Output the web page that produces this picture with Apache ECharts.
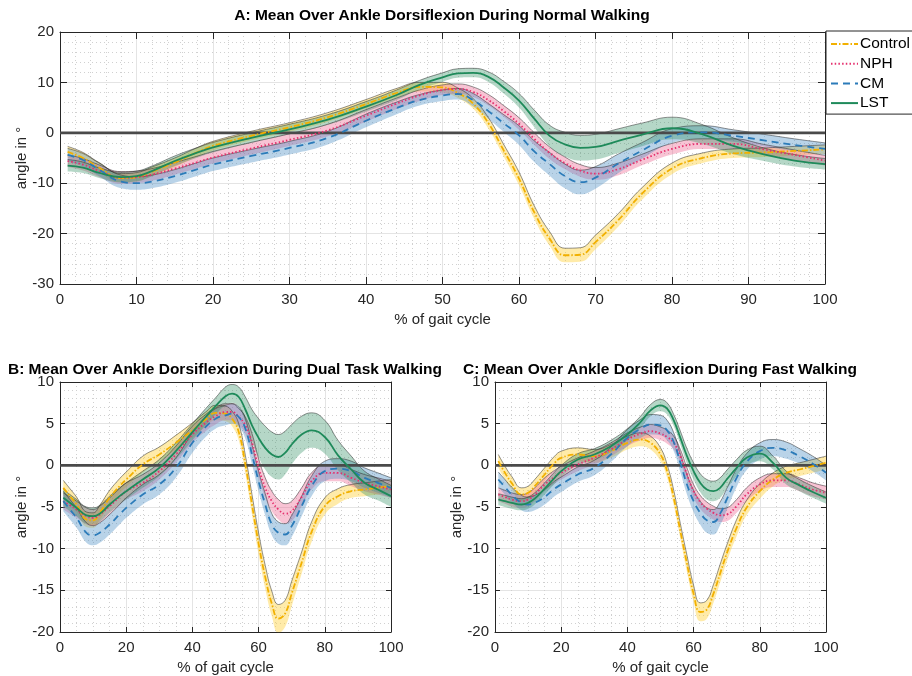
<!DOCTYPE html>
<html><head><meta charset="utf-8">
<script src="https://cdn.jsdelivr.net/npm/echarts@6/dist/echarts.min.js"></script>
<style>html,body{margin:0;padding:0;background:#fff}#c{width:912px;height:676px}</style>
</head><body><div id="c"></div><script>
const X = [1,3,5,8,10,12,15,18,20,25,30,35,40,44,47,50,52,54,56,58,60,62,64,66,68,70,73,76,80,84,88,92,96,100];
const groupNames = ['Control','NPH','CM','LST'];
const panelTitles = ['A: Mean Over Ankle Dorsiflexion During Normal Walking','B: Mean Over Ankle Dorsiflexion During Dual Task Walking','C: Mean Over Ankle Dorsiflexion During Fast Walking'];
const xAxisName = '% of gait cycle';
const yAxisName = 'angle in °';

const A_Control_mean = [-3.8,-5.0,-6.8,-9.0,-8.8,-7.7,-5.9,-3.8,-2.6,-0.6,1.1,3.1,5.7,7.9,9.1,9.0,7.9,5.8,1.9,-3.5,-9.1,-15.8,-21.0,-24.3,-24.2,-21.7,-17.3,-12.2,-7.1,-5.0,-4.1,-3.9,-3.6,-3.3];
const A_Control_sd   = [1.1,1.1,1.0,0.9,0.9,0.9,0.9,0.9,0.9,0.9,0.9,0.9,0.9,0.9,0.9,1.0,1.0,1.0,1.1,1.2,1.3,1.3,1.4,1.4,1.4,1.4,1.3,1.2,1.1,1.0,0.9,0.9,0.9,0.9];
const A_NPH_mean = [-5.6,-6.3,-7.5,-8.9,-8.8,-8.3,-7.1,-5.8,-4.9,-3.1,-1.4,0.5,3.4,5.8,7.4,8.5,8.7,8.1,6.5,4.3,1.8,-1.2,-4.0,-6.0,-7.5,-8.1,-7.2,-5.4,-3.2,-2.2,-2.2,-3.3,-4.4,-5.5];
const A_NPH_sd   = [1.2,1.2,1.2,1.2,1.2,1.2,1.2,1.2,1.2,1.2,1.2,1.2,1.2,1.1,1.1,1.0,1.0,1.0,1.1,1.1,1.2,1.2,1.2,1.2,1.2,1.2,1.2,1.1,1.1,1.0,1.0,1.0,1.0,1.0];
const A_CM_mean = [-4.4,-5.4,-7.2,-9.7,-10.0,-9.7,-8.6,-7.2,-6.3,-4.6,-3.0,-1.0,2.4,4.9,6.5,7.4,7.7,6.5,4.3,1.9,-0.5,-3.7,-6.2,-8.6,-9.8,-8.9,-6.1,-3.6,-0.6,0.1,-0.6,-1.5,-2.4,-3.2];
const A_CM_sd   = [1.3,1.3,1.3,1.3,1.3,1.3,1.3,1.3,1.3,1.3,1.3,1.3,1.3,1.2,1.1,1.1,1.1,1.3,1.5,1.7,1.9,2.1,2.3,2.4,2.4,2.2,1.9,1.6,1.4,1.3,1.2,1.2,1.2,1.2];
const A_LST_mean = [-6.5,-6.9,-7.9,-8.8,-8.6,-7.6,-5.6,-3.9,-2.9,-1.0,0.7,2.6,5.2,7.5,9.5,11.0,11.8,11.9,11.1,9.0,6.4,2.8,-0.6,-2.3,-3.0,-2.8,-1.6,-0.4,0.9,-0.3,-2.6,-4.3,-5.5,-6.2];
const A_LST_sd   = [1.2,1.1,1.0,1.0,1.0,1.0,1.0,1.0,1.0,1.0,1.0,1.0,1.0,1.0,0.9,0.9,0.9,0.9,1.0,1.2,1.4,1.7,2.1,2.4,2.5,2.5,2.4,2.3,2.2,1.9,1.6,1.3,1.2,1.1];

const B_Control_mean = [-2.7,-3.7,-4.7,-6.5,-6.6,-5.7,-3.9,-2.5,-1.7,0.1,1.3,2.7,4.2,5.5,6.3,6.2,5.6,4.0,0.1,-4.7,-9.4,-13.4,-16.6,-18.4,-17.8,-15.4,-11.7,-8.0,-4.9,-3.7,-3.1,-2.9,-2.7,-2.5];
const B_Control_sd   = [0.9,0.9,0.9,0.9,0.9,0.9,0.9,0.9,0.9,1.0,0.9,0.9,0.9,0.9,0.9,0.9,0.9,1.0,1.1,1.2,1.3,1.4,1.5,1.7,1.6,1.5,1.3,1.2,1.0,0.9,0.8,0.8,0.8,0.8];
const B_NPH_mean = [-4.3,-4.8,-5.3,-6.1,-6.3,-5.9,-4.9,-3.8,-3.1,-2.1,-0.7,1.3,3.7,5.1,5.9,6.4,6.4,5.8,4.8,2.7,-0.3,-2.7,-4.3,-5.3,-5.8,-5.5,-3.8,-1.9,-0.9,-0.9,-1.5,-2.1,-2.5,-2.9];
const B_NPH_sd   = [1.0,1.0,1.0,1.0,1.0,1.0,1.0,1.0,1.0,1.0,1.0,1.0,1.0,1.0,1.0,1.0,1.0,1.0,1.0,1.1,1.1,1.2,1.2,1.2,1.2,1.2,1.1,1.0,1.0,1.0,1.0,1.0,1.0,1.0];
const B_CM_mean = [-4.3,-5.3,-6.3,-8.1,-8.4,-8.1,-7.1,-5.9,-5.1,-3.5,-2.3,-0.3,2.7,4.6,5.6,6.0,6.2,5.8,4.4,1.3,-1.9,-4.7,-7.1,-8.1,-8.3,-7.3,-4.9,-2.5,-0.7,-0.4,-0.7,-1.5,-2.1,-2.7];
const B_CM_sd   = [1.2,1.2,1.2,1.2,1.2,1.2,1.2,1.2,1.2,1.2,1.2,1.2,1.2,1.2,1.2,1.2,1.2,1.2,1.2,1.2,1.2,1.3,1.3,1.3,1.3,1.3,1.2,1.2,1.2,1.2,1.2,1.2,1.2,1.2];
const B_LST_mean = [-3.9,-4.5,-5.1,-6.0,-6.1,-5.8,-4.7,-3.7,-3.1,-1.7,-0.3,1.7,4.0,5.8,7.1,8.3,8.6,8.2,6.7,4.8,3.3,2.1,1.3,1.0,1.5,2.5,3.7,4.2,3.4,1.2,-0.5,-2.1,-2.9,-3.7];
const B_LST_sd   = [1.0,1.0,1.0,1.0,1.0,1.0,1.0,1.0,1.0,1.0,1.0,1.0,1.0,1.0,1.0,1.1,1.1,1.2,1.5,1.9,2.3,2.6,2.7,2.7,2.6,2.4,2.2,2.1,2.0,1.8,1.6,1.4,1.3,1.3];

const C_Control_mean = [0.5,-0.9,-2.1,-3.5,-3.3,-2.5,-1.1,0.3,0.9,1.3,1.1,1.7,2.7,3.1,2.7,1.3,-0.7,-3.9,-7.9,-11.8,-15.4,-17.6,-17.3,-15.4,-13.0,-10.6,-7.5,-5.1,-3.1,-1.7,-0.9,-0.5,-0.1,0.3];
const C_Control_sd   = [0.8,0.8,0.8,0.8,0.8,0.8,0.8,0.8,0.8,0.8,0.8,0.8,0.8,0.8,0.8,0.8,0.8,0.9,0.9,1.0,1.0,1.1,1.1,1.1,1.1,1.0,1.0,0.9,0.9,0.8,0.8,0.8,0.8,0.8];
const C_NPH_mean = [-3.5,-3.8,-4.1,-4.3,-4.1,-3.5,-2.3,-1.4,-0.9,0.1,0.9,1.9,3.1,3.8,4.1,3.8,3.4,2.7,1.1,-1.1,-3.1,-4.4,-5.2,-5.7,-6.0,-5.9,-4.9,-3.5,-2.3,-1.8,-1.8,-2.3,-2.9,-3.3];
const C_NPH_sd   = [0.8,0.8,0.8,0.8,0.8,0.8,0.8,0.8,0.8,0.8,0.8,0.8,0.8,0.8,0.8,0.8,0.8,0.8,0.8,0.8,0.8,0.8,0.8,0.8,0.8,0.8,0.8,0.8,0.8,0.8,0.8,0.8,0.8,0.8];
const C_CM_mean = [-1.7,-2.6,-3.5,-4.5,-4.7,-4.5,-3.8,-2.8,-2.3,-1.1,-0.3,1.3,3.3,4.4,4.9,4.8,4.2,2.8,0.3,-2.3,-4.3,-5.7,-6.6,-6.8,-5.8,-4.1,-1.5,0.4,1.7,2.1,1.8,1.1,0.2,-0.9];
const C_CM_sd   = [0.9,0.9,0.9,0.9,0.9,0.9,0.9,0.9,0.9,0.9,0.9,0.9,1.0,1.1,1.2,1.2,1.2,1.1,1.1,1.2,1.3,1.4,1.5,1.5,1.4,1.3,1.1,1.0,1.0,1.0,1.0,0.9,0.9,0.9];
const C_LST_mean = [-4.1,-4.3,-4.5,-4.7,-4.5,-4.0,-2.8,-1.5,-0.7,0.7,1.3,2.3,3.7,5.2,6.6,7.2,6.8,5.4,3.3,1.1,-0.7,-2.1,-2.9,-3.1,-2.7,-1.7,-0.3,0.9,1.4,0.3,-1.5,-2.4,-3.2,-3.9];
const C_LST_sd   = [0.7,0.7,0.7,0.7,0.7,0.7,0.7,0.7,0.7,0.7,0.7,0.7,0.7,0.7,0.7,0.7,0.7,0.7,0.8,0.9,1.0,1.1,1.2,1.2,1.2,1.1,1.0,0.9,0.9,0.8,0.8,0.7,0.7,0.7];

const FONT = '"Liberation Sans", Helvetica, Arial, sans-serif';
const lineColors = ['#F2B000','#E5306E','#2B7BB9','#1E8A5A'];
const bandColors = ['rgba(255,205,40,0.40)','rgba(236,90,135,0.36)','rgba(70,140,195,0.38)','rgba(50,145,100,0.36)'];
const dashTypes = [[6,2,1.5,2],[1.5,2.2],[7,5],'solid'];

const panels = [
  {mean:[A_Control_mean,A_NPH_mean,A_CM_mean,A_LST_mean], sd:[A_Control_sd,A_NPH_sd,A_CM_sd,A_LST_sd]},
  {mean:[B_Control_mean,B_NPH_mean,B_CM_mean,B_LST_mean], sd:[B_Control_sd,B_NPH_sd,B_CM_sd,B_LST_sd]},
  {mean:[C_Control_mean,C_NPH_mean,C_CM_mean,C_LST_mean], sd:[C_Control_sd,C_NPH_sd,C_CM_sd,C_LST_sd]}
];
const grids = [
  {left:60, top:32, width:765, height:252},
  {left:60, top:382, width:331, height:252},
  {left:495, top:382, width:331, height:252}
];
const yRange = [{min:-30,max:20,interval:10,minor:5},{min:-20,max:10,interval:5,minor:5},{min:-20,max:10,interval:5,minor:5}];
const xRange = [{min:0,max:100,interval:10,minor:5},{min:0,max:100,interval:20,minor:4},{min:0,max:100,interval:20,minor:4}];
const tickLen = [7,5,5];

const axisColor = '#262626';
const xAxes = [], yAxes = [], series = [];
for (let p = 0; p < 3; p++) {
  xAxes.push({type:'value', gridIndex:p, min:xRange[p].min, max:xRange[p].max, interval:xRange[p].interval,
    name:xAxisName, nameLocation:'middle', nameGap:28, nameMoveOverlap:false, nameTextStyle:{fontFamily:FONT,fontSize:15,color:axisColor},
    axisLine:{show:true,onZero:false,lineStyle:{color:axisColor,width:1}},
    axisTick:{show:true,inside:true,length:tickLen[p],lineStyle:{color:axisColor}},
    axisLabel:{fontFamily:FONT,fontSize:15,color:axisColor,margin:8},
    splitLine:{show:true,lineStyle:{color:'#e4e4e4',width:1}},
    minorTick:{show:true,splitNumber:xRange[p].minor,length:0},
    minorSplitLine:{show:true,lineStyle:{color:'#d0d0d0',width:1,type:[1,3]}}
  });
  yAxes.push({type:'value', gridIndex:p, min:yRange[p].min, max:yRange[p].max, interval:yRange[p].interval,
    name:yAxisName, nameLocation:'middle', nameGap:31, nameMoveOverlap:false, nameTextStyle:{fontFamily:FONT,fontSize:15,color:axisColor},
    axisLine:{show:true,onZero:false,lineStyle:{color:axisColor,width:1}},
    axisTick:{show:true,inside:true,length:tickLen[p],lineStyle:{color:axisColor}},
    axisLabel:{fontFamily:FONT,fontSize:15,color:axisColor,margin:6},
    splitLine:{show:true,lineStyle:{color:'#e4e4e4',width:1}},
    minorTick:{show:true,splitNumber:yRange[p].minor,length:0},
    minorSplitLine:{show:true,lineStyle:{color:'#d0d0d0',width:1,type:[1,3]}}
  });
}
for (let p = 0; p < 3; p++) {
  xAxes.push({type:'value', gridIndex:p, position:'top', min:xRange[p].min, max:xRange[p].max, interval:xRange[p].interval,
    axisLine:{show:true,onZero:false,lineStyle:{color:axisColor,width:1}},
    axisTick:{show:true,inside:true,length:tickLen[p],lineStyle:{color:axisColor}},
    axisLabel:{show:false}, splitLine:{show:false}});
  yAxes.push({type:'value', gridIndex:p, position:'right', min:yRange[p].min, max:yRange[p].max, interval:yRange[p].interval,
    axisLine:{show:true,onZero:false,lineStyle:{color:axisColor,width:1}},
    axisTick:{show:true,inside:true,length:tickLen[p],lineStyle:{color:axisColor}},
    axisLabel:{show:false}, splitLine:{show:false}});
}

// data rows are [y, x] so that the stacked dimension (first numeric one) is y
for (let p = 0; p < 3; p++) {
  const P = panels[p];
  for (let g = 0; g < 4; g++) {
    const m = P.mean[g], s = P.sd[g];
    const stackId = 'band_' + p + '_' + g;
    series.push({type:'line', name:groupNames[g]+' lower '+p, xAxisIndex:p, yAxisIndex:p, stack:stackId, stackStrategy:'all',
      encode:{x:1, y:0},
      data:X.map((x,i)=>[+(m[i]-s[i]).toFixed(2), x]), smooth:0.45, symbol:'none', silent:true,
      lineStyle:{opacity:0,width:0}, z:2});
    series.push({type:'line', name:groupNames[g]+' band '+p, xAxisIndex:p, yAxisIndex:p, stack:stackId, stackStrategy:'all',
      encode:{x:1, y:0},
      data:X.map((x,i)=>[+(2*s[i]).toFixed(2), x]), smooth:0.45, symbol:'none', silent:true,
      lineStyle:{color:'rgba(40,40,40,0.85)',width:0.6}, areaStyle:{color:bandColors[g],opacity:1}, z:2});
  }
  series.push({type:'line', name:'zero '+p, xAxisIndex:p, yAxisIndex:p, data:[[0,0],[100,0]], symbol:'none', silent:true,
    lineStyle:{color:'#4a4a4a',width:2.8}, z:3});
  for (let g = 0; g < 4; g++) {
    series.push({type:'line', name:groupNames[g], xAxisIndex:p, yAxisIndex:p,
      data:X.map((x,i)=>[x, P.mean[g][i]]), smooth:0.45, symbol:'none',
      lineStyle:{color:lineColors[g],width:1.8,type:dashTypes[g]}, itemStyle:{color:lineColors[g]}, z:4});
  }
}

const chart = echarts.init(document.getElementById('c'), null, {renderer:'canvas'});
chart.setOption({
  animation:false,
  backgroundColor:'#ffffff',
  title:[
    {text:panelTitles[0], left:442, textAlign:'center', top:8, padding:0, textStyle:{fontFamily:FONT,fontSize:15.5,fontWeight:'bold',color:'#000'}},
    {text:panelTitles[1], left:225, textAlign:'center', top:362, padding:0, textStyle:{fontFamily:FONT,fontSize:15.5,fontWeight:'bold',color:'#000'}},
    {text:panelTitles[2], left:660, textAlign:'center', top:362, padding:0, textStyle:{fontFamily:FONT,fontSize:15.5,fontWeight:'bold',color:'#000'}}
  ],
  legend:{data:groupNames, orient:'vertical', left:826, top:31, itemWidth:27, itemHeight:14, itemGap:3.7,
    padding:[5,6,3,4], backgroundColor:'#fff', borderColor:axisColor, borderWidth:1, borderRadius:0,
    itemStyle:{opacity:0},
    textStyle:{fontFamily:FONT,fontSize:15.5,color:'#000',padding:[0,0,0,-3]}, selectedMode:false},
  grid:grids,
  xAxis:xAxes,
  yAxis:yAxes,
  series:series
});
</script></body></html>
